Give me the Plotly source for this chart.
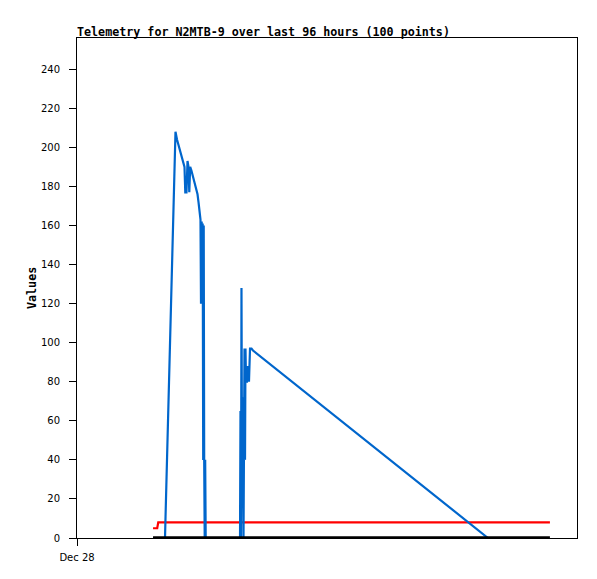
import plotly.graph_objects as go

# Hours since Dec 28 00:00
hours = [14.6, 15.4, 15.6, 16.1, 16.9,
         17.0, 17.18, 17.38, 17.57, 17.76, 17.95, 18.14, 18.34, 18.53, 18.72, 18.91,
         19.2, 19.58, 19.97, 20.35, 20.64, 20.79, 21.02, 21.22, 21.41, 21.56, 21.73, 21.98,
         22.27, 22.56, 22.85, 23.14, 23.33, 23.52, 23.71,
         23.81, 23.94, 24.04, 24.13, 24.23, 24.33, 24.42, 24.52, 24.61, 24.71,
         25.9, 27.5, 29.0, 30.3, 31.3,
         31.39, 31.49, 31.58, 31.68, 31.78, 31.97, 32.06, 32.16, 32.26, 32.35, 32.45, 32.64,
         32.83, 33.02, 33.22, 33.5, 33.79,
         38.0, 42.0, 46.0, 50.0, 54.0, 58.0, 62.0, 66.0, 70.0, 74.0,
         78.9, 82.0, 86.0, 90.8]

blue = [0, 0, 0, 0, 0,
        11, 31, 52, 73, 94, 114, 135, 156, 177, 197, 208,
        204, 200, 196, 192, 190, 177, 177, 193, 190, 177, 190, 188,
        185, 181, 178, 176, 172, 167, 163,
        120, 162, 120, 161, 40, 160, 40, 0, 40, 0,
        0, 0, 0, 0, 0,
        65, 0, 128, 40, 72, 0, 72, 97, 40, 97, 80, 80,
        88, 80, 97, 97, 96,
        None, None, None, None, None, None, None, None, None, None,
        0, None, None, None]

red = [5, 5, 8] + [8] * (len(hours) - 3)
black = [0] * len(hours)

title_text = "Telemetry for N2MTB-9 over last 96 hours (100 points)"
y_ticks = list(range(0, 241, 20))
x_tickvals = [0]
x_ticktext = ["Dec 28"]

# page body has an 8px margin; compensate in figure margins
OFF = 8

fig = go.Figure()
fig.add_trace(go.Scatter(x=hours, y=red, mode="lines",
                         line=dict(color="#FF0000", width=2.2), showlegend=False))
fig.add_trace(go.Scatter(x=hours, y=blue, mode="lines", connectgaps=True,
                         line=dict(color="#0066CC", width=2.2), showlegend=False))
fig.add_trace(go.Scatter(x=hours, y=black, mode="lines",
                         line=dict(color="#000000", width=3.5), showlegend=False))

fig.update_layout(
    width=597, height=579,
    margin=dict(l=77 - OFF, r=20 + OFF, t=38 - OFF, b=41 + OFF),
    plot_bgcolor="white", paper_bgcolor="white",
    title=dict(text=title_text, x=(77 - OFF)/597, xanchor="left", xref="container",
               y=1 - (32 - OFF)/579, yanchor="middle", yref="container",
               font=dict(family="DejaVu Sans Mono", size=11.7, color="black", weight="bold")),
    annotations=[dict(text="Values", x=-0.09, y=0.5, xref="paper", yref="paper",
                      textangle=-90, showarrow=False, xanchor="center", yanchor="middle",
                      font=dict(family="DejaVu Sans Mono", size=11.7, color="black", weight="bold"))],
)
fig.update_xaxes(range=[0, 96], tickvals=x_tickvals, ticktext=x_ticktext,
                 ticks="outside", ticklen=7, tickcolor="black",
                 showline=True, linecolor="black", linewidth=1, mirror=True,
                 showgrid=False, zeroline=False, ticklabelstandoff=3,
                 tickfont=dict(family="DejaVu Sans", size=10, color="black"))
fig.update_yaxes(range=[0, 256], tickvals=y_ticks,
                 ticks="outside", ticklen=7, tickcolor="black",
                 showline=True, linecolor="black", linewidth=1, mirror=True,
                 showgrid=False, zeroline=False, ticklabelstandoff=7,
                 tickfont=dict(family="DejaVu Sans", size=10, color="black"))

fig.write_html("out.html")
